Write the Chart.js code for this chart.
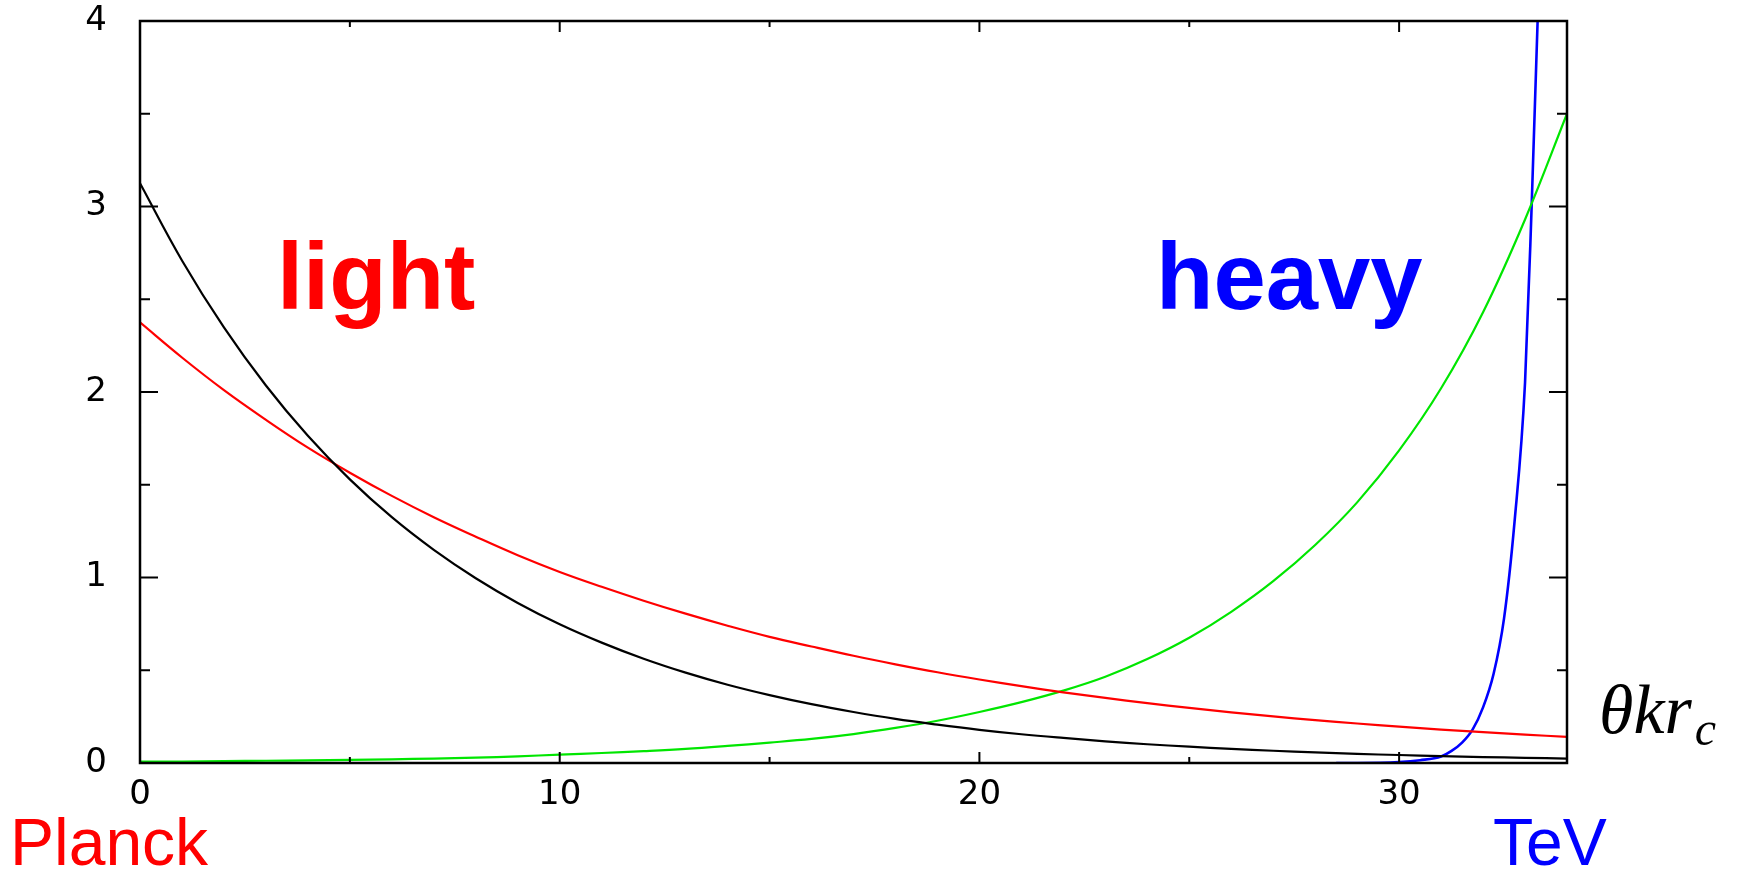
<!DOCTYPE html>
<html>
<head>
<meta charset="utf-8">
<script src="https://cdn.jsdelivr.net/npm/chart.js@4.4.1/dist/chart.umd.min.js"></script>
<style>
  html, body { margin: 0; padding: 0; background: #fff; }
</style>
</head>
<body>
<canvas id="chart" width="1740" height="871"></canvas>
<script>
// values
const xGrid = [0, 1, 2, 3, 4, 5, 6, 7, 8, 9, 10, 11, 12, 13, 14, 15, 16, 17,
  18, 19, 20, 21, 22, 23, 24, 25, 26, 27, 28, 29, 30, 31, 32, 33, 34];
const blackCurve = [3.125, 2.709, 2.348, 2.035, 1.764, 1.529, 1.325, 1.149, 0.996,
  0.863, 0.748, 0.649, 0.562, 0.487, 0.422, 0.366, 0.317, 0.275, 0.238, 0.207,
  0.179, 0.155, 0.135, 0.117, 0.101, 0.088, 0.076, 0.066, 0.057, 0.049, 0.043,
  0.037, 0.032, 0.028, 0.024];
const redCurve = [2.375, 2.186, 2.01, 1.85, 1.70, 1.565, 1.44, 1.325, 1.22, 1.12,
  1.03, 0.95, 0.875, 0.805, 0.74, 0.68, 0.628, 0.578, 0.532, 0.489, 0.45, 0.414,
  0.381, 0.351, 0.323, 0.297, 0.273, 0.251, 0.231, 0.213, 0.196, 0.18, 0.166,
  0.153, 0.141];
const greenCurve = [0.007, 0.008, 0.01, 0.012, 0.014, 0.017, 0.02, 0.024, 0.029,
  0.036, 0.045, 0.054, 0.064, 0.076, 0.092, 0.11, 0.13, 0.156, 0.189, 0.228, 0.275,
  0.328, 0.39, 0.465, 0.56, 0.675, 0.815, 0.98, 1.175, 1.405, 1.685, 2.02, 2.43,
  2.93, 3.5];
const blueX = [28.5, 29, 30, 30.5, 31, 31.25, 31.5, 31.75, 32, 32.25, 32.5, 32.75,
  33, 33.15, 33.3, 33.45];
const blueCurve = [0, 0, 0.005, 0.015, 0.035, 0.065, 0.11, 0.18, 0.3, 0.48, 0.78,
  1.3, 2.05, 2.95, 4.0, 5.3];

const xTicks = [0, 10, 20, 30];
const xMinorTicks = [5, 15, 25];
const yTicks = [0, 1, 2, 3, 4];
const yMinorTicks = [0.5, 1.5, 2.5, 3.5];

function pts(xs, ys) {
  return xs.map((x, i) => ({x: x, y: ys[i]}));
}

const frameTicks = {
  id: "frameTicks",
  afterDatasetsDraw(chart) {
    const ctx = chart.ctx;
    const a = chart.chartArea;
    const sx = chart.scales.x, sy = chart.scales.y;
    ctx.save();
    ctx.strokeStyle = "#000";
    ctx.lineWidth = 2;
    ctx.beginPath();
    yTicks.forEach(v => {
      const p = sy.getPixelForValue(v);
      ctx.moveTo(a.left, p); ctx.lineTo(a.left + 18, p);
      ctx.moveTo(a.right, p); ctx.lineTo(a.right - 18, p);
    });
    yMinorTicks.forEach(v => {
      const p = sy.getPixelForValue(v);
      ctx.moveTo(a.left, p); ctx.lineTo(a.left + 10, p);
      ctx.moveTo(a.right, p); ctx.lineTo(a.right - 10, p);
    });
    xTicks.forEach(v => {
      const p = sx.getPixelForValue(v);
      ctx.moveTo(p, a.bottom); ctx.lineTo(p, a.bottom - 11);
      ctx.moveTo(p, a.top); ctx.lineTo(p, a.top + 11);
    });
    xMinorTicks.forEach(v => {
      const p = sx.getPixelForValue(v);
      ctx.moveTo(p, a.bottom); ctx.lineTo(p, a.bottom - 6);
      ctx.moveTo(p, a.top); ctx.lineTo(p, a.top + 6);
    });
    ctx.stroke();
    ctx.lineWidth = 2.5;
    ctx.strokeRect(a.left, a.top, a.right - a.left, a.bottom - a.top);
    ctx.restore();
  }
};

const labels = {
  id: "labels",
  afterDraw(chart) {
    const ctx = chart.ctx;
    ctx.save();
    ctx.textBaseline = "alphabetic";
    ctx.textAlign = "left";
    ctx.fillStyle = "#ff0000";
    ctx.font = "bold 94px 'Liberation Sans', Arial, sans-serif";
    ctx.fillText("light", 277, 309);
    ctx.fillStyle = "#0000ff";
    ctx.fillText("heavy", 1156, 309);
    ctx.font = "66px 'Liberation Sans', Arial, sans-serif";
    ctx.fillStyle = "#ff0000";
    ctx.fillText("Planck", 10, 865);
    ctx.fillStyle = "#0000ff";
    ctx.fillText("TeV", 1493, 865);
    ctx.fillStyle = "#000";
    ctx.font = "italic 70px 'Liberation Serif', 'DejaVu Serif', serif";
    ctx.fillText("\u03b8kr", 1599, 733);
    const w = ctx.measureText("\u03b8kr").width;
    ctx.font = "italic 48px 'Liberation Serif', 'DejaVu Serif', serif";
    ctx.fillText("c", 1599 + w + 3, 745);
    ctx.restore();
  }
};

const lineStyle = {
  pointRadius: 0,
  borderWidth: 2.2,
  fill: false,
  tension: 0.4,
};

new Chart(document.getElementById("chart"), {
  type: "line",
  data: {
    datasets: [
      Object.assign({label: "black", data: pts(xGrid, blackCurve), borderColor: "#000000"}, lineStyle),
      Object.assign({label: "red", data: pts(xGrid, redCurve), borderColor: "#ff0000"}, lineStyle),
      Object.assign({label: "green", data: pts(xGrid, greenCurve), borderColor: "#00e600"}, lineStyle),
      Object.assign({label: "blue", data: pts(blueX, blueCurve), borderColor: "#0000ff"}, lineStyle,
        {cubicInterpolationMode: "monotone", borderWidth: 2.6}),
    ],
  },
  options: {
    responsive: false,
    animation: false,
    devicePixelRatio: 1,
    layout: { padding: { top: 21, right: 173, left: 0, bottom: 0 } },
    plugins: {
      legend: { display: false },
      tooltip: { enabled: false },
    },
    scales: {
      x: {
        type: "linear",
        min: 0,
        max: 34,
        grid: { display: false, drawTicks: false },
        border: { display: false },
        afterBuildTicks: (s) => { s.ticks = xTicks.map(v => ({value: v})); },
        afterFit: (s) => { s.height = 108; s.paddingLeft = 0; s.paddingRight = 0; },
        ticks: {
          color: "#000",
          padding: 12,
          maxRotation: 0,
          font: { family: "'DejaVu Sans', sans-serif", size: 34 },
        },
      },
      y: {
        type: "linear",
        min: 0,
        max: 4,
        grid: { display: false, drawTicks: false },
        border: { display: false },
        afterBuildTicks: (s) => { s.ticks = yTicks.map(v => ({value: v})); },
        afterFit: (s) => { s.width = 140; s.paddingTop = 0; s.paddingBottom = 0; },
        ticks: {
          color: "#000",
          padding: 33,
          font: { family: "'DejaVu Sans', sans-serif", size: 34 },
        },
      },
    },
  },
  plugins: [frameTicks, labels],
});
</script>
</body>
</html>
